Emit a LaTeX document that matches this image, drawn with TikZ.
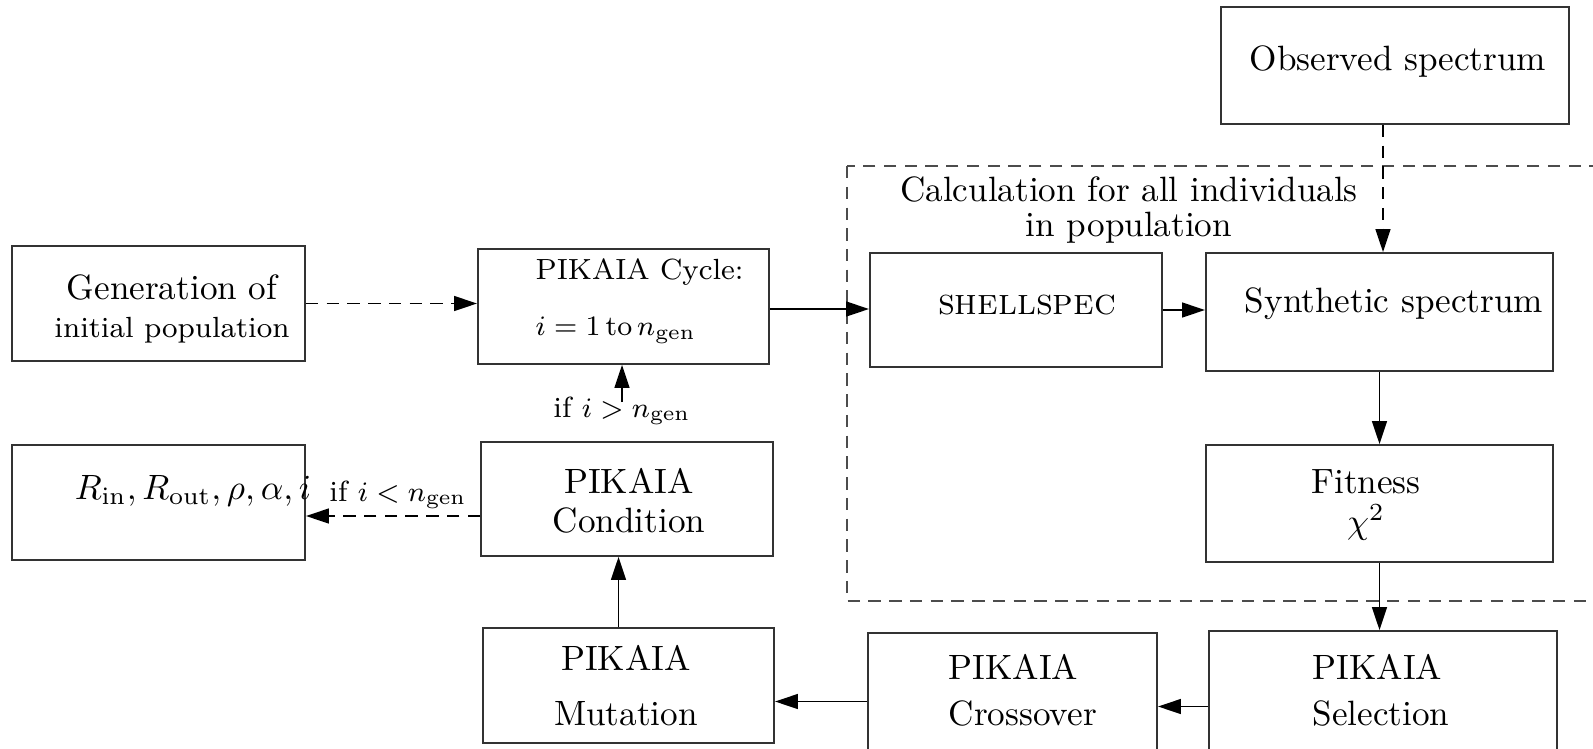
\documentclass[tikz,border=0pt]{standalone}
\usepackage{amsmath}
\usepackage{tikz}
\usetikzlibrary{arrows.meta, calc}

\newcommand{\smalltxt}{\fontsize{8.3}{10}\selectfont}

\begin{document}
\begin{tikzpicture}[x=0.01cm, y=-0.01cm,
    box/.style={draw=black!80, line width=0.5pt, inner sep=0pt},
    txt/.style={inner sep=0pt, align=center},
    arr/.style={-{Triangle[length=6.5pt, width=4.2pt]}, line width=0.5pt},
    dasharr/.style={arr, dash pattern=on 3.5pt off 2.4pt}]
    \useasboundingbox (0,0) rectangle (1593,748);

    % rahmen: berechnung fuer alle individuen
    \draw[black!70, line width=0.5pt, dash pattern=on 3.5pt off 2.4pt] (847,166) rectangle (1640,601);

    % kaesten
    \node[box, minimum width=3.48cm, minimum height=1.17cm] (obs) at (1395,65.5) {};
    \node[box, minimum width=2.93cm, minimum height=1.15cm] (gen) at (158.5,303.5) {};
    \node[box, minimum width=2.91cm, minimum height=1.15cm] (cyc) at (623.5,306.5) {};
    \node[box, minimum width=2.92cm, minimum height=1.14cm] (shell) at (1016,310) {};
    \node[box, minimum width=3.47cm, minimum height=1.18cm] (synth) at (1379.5,312) {};
    \node[box, minimum width=2.93cm, minimum height=1.15cm] (res) at (158.5,502.5) {};
    \node[box, minimum width=2.92cm, minimum height=1.14cm] (cond) at (627,499) {};
    \node[box, minimum width=3.47cm, minimum height=1.17cm] (fit) at (1379.5,503.5) {};
    \node[box, minimum width=2.91cm, minimum height=1.15cm] (mut) at (628.5,685.5) {};
    \node[box, minimum width=2.89cm, minimum height=1.17cm] (cross) at (1012.5,691.5) {};
    \node[box, minimum width=3.48cm, minimum height=1.19cm] (sel) at (1383,690.5) {};

    % texte
    \node[txt] (obs-t) at (1398,62) {Observed spectrum};
    \node[txt] (gen-t) at (172,309) {Generation of\\[-1pt]{\smalltxt initial population}};
    \node[txt, align=left, anchor=west, font=\smalltxt] (cyc-t) at (535,301) {PIKAIA Cycle:\\[6pt]$i=1\,\mathrm{to}\,n_{\mathrm{gen}}$};
    \node[txt, scale=1.05] (shell-t) at (1027,305) {\textsc{shellspec}};
    \node[txt] (synth-t) at (1394,304) {Synthetic spectrum};
    \node[txt] (calc-t) at (1129,210) {Calculation for all individuals\\[-2pt]in population};
    \node[txt] (res-t) at (193,491) {$R_{\mathrm{in}}, R_{\mathrm{out}}, \rho, \alpha, i$};
    \node[txt, font=\smalltxt] (lt) at (398,495) {if $i<n_{\mathrm{gen}}$};
    \node[txt, font=\smalltxt] (gt) at (622,411) {if $i>n_{\mathrm{gen}}$};
    \node[txt] (cond-t) at (629,501) {PIKAIA\\[-1pt]Condition};
    \node[txt] (fit-t) at (1366,505) {Fitness\\[-0.6pt]$\chi^2$};
    \node[txt] (mut-t) at (626,686) {PIKAIA\\[3.6pt]Mutation};
    \node[txt, align=left, anchor=west] (cross-t) at (948,690) {PIKAIA\\[1pt]Crossover};
    \node[txt, align=left, anchor=west] (sel-t) at (1312,690) {PIKAIA\\[1pt]Selection};

    % pfeile
    \draw[dasharr] (gen.east) -- (gen.east -| cyc.west);
    \draw[arr] ($(cyc.east)+(0,2.5)$) coordinate (c1) -- (c1 -| shell.west);
    \draw[arr] (shell.east) -- (shell.east -| synth.west);
    \draw[dasharr] ($(obs.south)+(-12,0)$) coordinate (o1) -- (o1 |- synth.north);
    \draw[arr] (synth.south) -- (fit.north);
    \draw[arr] (fit.south) -- (fit.south |- sel.north);
    \draw[arr] ($(sel.west)+(0,16)$) coordinate (s1) -- (s1 -| cross.east);
    \draw[arr] ($(cross.west)+(0,10)$) coordinate (c2) -- (c2 -| mut.east);
    \draw[arr] ($(mut.north)+(-10,0)$) coordinate (m1) -- (m1 |- cond.south);
    \draw[arr] ($(gt.north)+(0,6)$) -- (gt.north |- cyc.south);
    \draw[dasharr] ($(cond.west)+(0,17)$) coordinate (k1) -- (k1 -| res.east);
\end{tikzpicture}
\end{document}
